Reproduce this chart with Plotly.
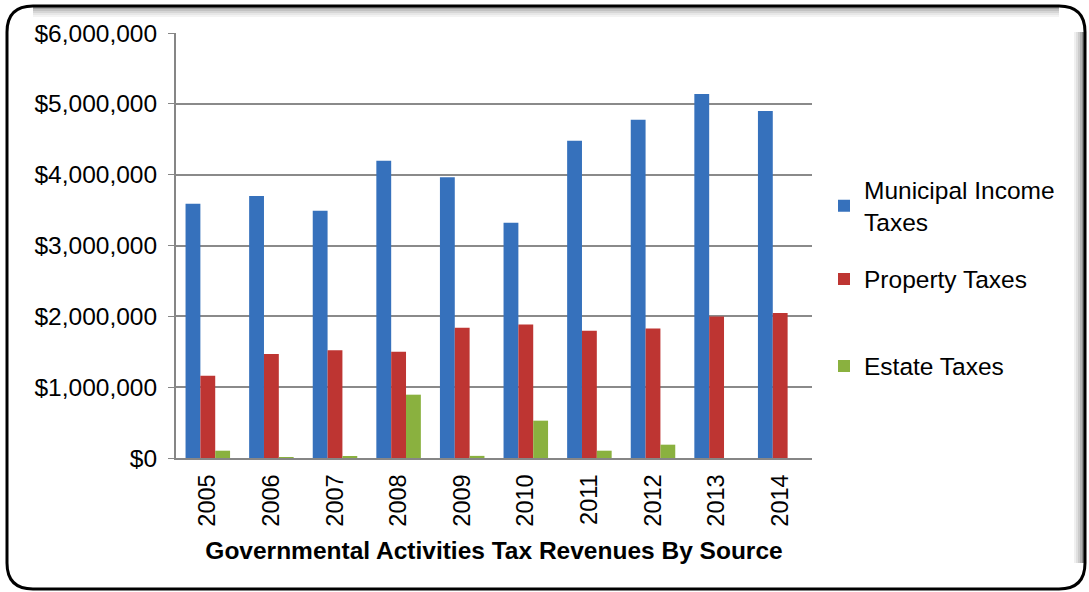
import plotly.graph_objects as go

years = ["2005", "2006", "2007", "2008", "2009", "2010", "2011", "2012", "2013", "2014"]
municipal_income = [3590000, 3700000, 3490000, 4195000, 3965000, 3320000, 4478000, 4775000, 5140000, 4900000]
property_taxes = [1162000, 1469000, 1520000, 1500000, 1840000, 1883000, 1798000, 1830000, 1996000, 2048000]
estate_taxes = [103000, 10000, 20000, 894000, 30000, 527000, 103000, 188000, 0, 0]

series_names = ["Municipal Income<br>Taxes", "Property Taxes", "Estate Taxes"]
series_colors = ["#3671BC", "#BE3532", "#8AB13F"]

W, H = 1089, 592
L, R, T, B = 176, 812, 33, 458

def px(x):
    return (x - L) / (R - L)

def py(y):
    return (B - y) / (B - T)

legend_ids = ["legend", "legend2", "legend3"]
legend_centers = [206, 279, 366]

fig = go.Figure()
for name, vals, col, lid in zip(series_names, [municipal_income, property_taxes, estate_taxes],
                                series_colors, legend_ids):
    fig.add_trace(go.Bar(x=years, y=vals, name=name, marker=dict(color=col, line=dict(width=0)),
                         legend=lid))

# rounded border
x0, y0, x1, y1, r = 7, 6, 1085, 589, 26
path = (f"M {px(x0+r)},{py(y0)} L {px(x1-r)},{py(y0)} Q {px(x1)},{py(y0)} {px(x1)},{py(y0+r)} "
        f"L {px(x1)},{py(y1-r)} Q {px(x1)},{py(y1)} {px(x1-r)},{py(y1)} "
        f"L {px(x0+r)},{py(y1)} Q {px(x0)},{py(y1)} {px(x0)},{py(y1-r)} "
        f"L {px(x0)},{py(y0+r)} Q {px(x0)},{py(y0)} {px(x0+r)},{py(y0)} Z")
shapes = []
for i, op in enumerate([0.45, 0.3, 0.2, 0.12, 0.06]):
    d = 2 + i * 2
    shapes.append(dict(type="line", xref="paper", yref="paper",
                       x0=px(x1 - d), x1=px(x1 - d), y0=py(y0 + r), y1=py(y1 - r),
                       line=dict(color=f"rgba(0,0,0,{op})", width=2), layer="below"))
    shapes.append(dict(type="line", xref="paper", yref="paper",
                       x0=px(x0 + r), x1=px(x1 - r), y0=py(y0 + d), y1=py(y0 + d),
                       line=dict(color=f"rgba(0,0,0,{op*0.8})", width=2), layer="below"))
shapes.append(dict(type="path", xref="paper", yref="paper", path=path,
                   line=dict(color="black", width=3), layer="above"))

legend_common = dict(x=px(824), xanchor="left", yanchor="middle",
                     font=dict(size=24.5), itemwidth=30, bgcolor="rgba(0,0,0,0)")
layout_legends = {lid: dict(legend_common, y=py(c)) for lid, c in zip(legend_ids, legend_centers)}

fig.update_layout(
    width=W, height=H,
    margin=dict(l=L, r=W - R, t=T, b=H - B),
    paper_bgcolor="white", plot_bgcolor="white",
    font=dict(family="Liberation Sans, Arial, sans-serif", color="black", size=24),
    barmode="group", bargap=0.3, bargroupgap=0,
    shapes=shapes,
    xaxis=dict(
        tickangle=-90, tickfont=dict(size=23.5), showline=True, linecolor="#868686", linewidth=2,
        ticks="", showgrid=False, ticklabelstandoff=5,
        title=dict(text="<b>Governmental Activities Tax Revenues By Source</b>",
                   font=dict(size=24.5), standoff=16),
    ),
    yaxis=dict(
        range=[0, 6000000], dtick=1000000, tickprefix="$", tickformat=",",
        tickfont=dict(size=24.5), showline=True, linecolor="#868686", linewidth=2,
        ticks="outside", ticklen=6, tickcolor="#868686", ticklabelstandoff=6,
        showgrid=True, gridcolor="#8a8a8a", gridwidth=1.5, zeroline=False,
    ),
    showlegend=True,
    **layout_legends,
)

fig.write_html("out.html", config={"displayModeBar": False},
               post_script="document.body.style.margin='0';document.body.style.overflow='hidden';")
